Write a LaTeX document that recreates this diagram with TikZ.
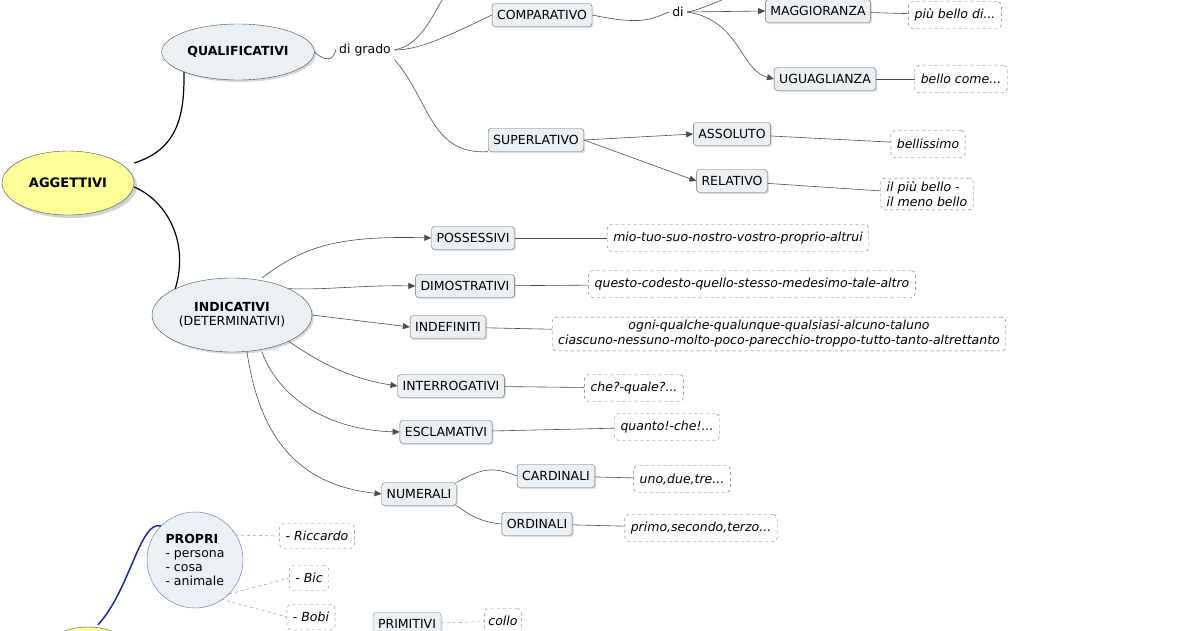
\documentclass[tikz,border=0pt]{standalone}
\usepackage{fontspec}
\setmainfont{DejaVu Sans}
\usetikzlibrary{shadows,arrows.meta}
\definecolor{nodefill}{HTML}{EAF0F4}
\definecolor{yel}{HTML}{FFFF99}
\definecolor{dblue}{HTML}{1A2A9A}
\begin{document}
\begin{tikzpicture}[x=1pt,y=-1pt,
  every node/.style={font=\fontsize{12.5}{14}\selectfont},
  cbox/.style={draw=black!60,fill=nodefill,rounded corners=3pt,minimum height=23pt,inner xsep=5pt,drop shadow={shadow xshift=1.5pt,shadow yshift=-1.5pt,fill=black!25}},
  ex/.style={draw=black!60,dashed,rounded corners=4pt,minimum height=27pt,inner xsep=6pt,font=\fontsize{12.5}{15}\selectfont\itshape},
  ell/.style={ellipse,draw=black!70,fill=nodefill,drop shadow={shadow xshift=2pt,shadow yshift=-2pt,fill=black!30}},
  yell/.style={ellipse,draw=black!70,fill=yel,drop shadow={shadow xshift=3pt,shadow yshift=-3pt,fill=black!35}},
  ln/.style={draw=black!70,line width=0.6pt},
  ar/.style={ln,-{Triangle[length=7pt,width=6pt]}},
  thk/.style={draw=black,line width=1.2pt},
]
\useasboundingbox (0,0) rectangle (1200,630);
\clip (0,0) rectangle (1200,630);
\usetikzlibrary{shapes.geometric}
% main nodes
\node[yell,minimum width=132pt,minimum height=64pt,font=\fontsize{13}{15}\selectfont\bfseries] (agg) at (68,183) {AGGETTIVI};
\node[ell,minimum width=144pt,minimum height=56pt,font=\fontsize{12.5}{15}\selectfont\bfseries] (qual) at (238,52) {QUALIFICATIVI};
\node (dg) at (365,50) {di grado};
\node[cbox] (comp) at (542,15) {COMPARATIVO};
\node (di) at (678,12) {di};
\node[cbox] (magg) at (818,11) {MAGGIORANZA};
\node[ex] (pb) at (955,15) {più bello di...};
\node[cbox] (ugu) at (825,79) {UGUAGLIANZA};
\node[ex] (bc) at (961,79) {bello come...};
\node[cbox] (sup) at (536,140) {SUPERLATIVO};
\node[cbox] (ass) at (732,134) {ASSOLUTO};
\node[ex] (bel) at (928,144) {bellissimo};
\node[cbox] (rel) at (732,181) {RELATIVO};
\node[ex,align=left] (ipb) at (927,194) {il più bello -\\il meno bello};
\node[ell,minimum width=154pt,minimum height=74pt,align=center] (ind) at (232,315) {\textbf{INDICATIVI}\\(DETERMINATIVI)};
\node[cbox] (pos) at (473,238) {POSSESSIVI};
\node[ex] (posx) at (738,238) {mio-tuo-suo-nostro-vostro-proprio-altrui};
\node[cbox] (dim) at (465,286) {DIMOSTRATIVI};
\node[ex] (dimx) at (752,284) {questo-codesto-quello-stesso-medesimo-tale-altro};
\node[cbox] (indf) at (448,327) {INDEFINITI};
\node[ex,align=center] (indfx) at (779,334) {ogni-qualche-qualunque-qualsiasi-alcuno-taluno\\ciascuno-nessuno-molto-poco-parecchio-troppo-tutto-tanto-altrettanto};
\node[cbox] (int) at (451,386) {INTERROGATIVI};
\node[ex] (intx) at (634,388) {che?-quale?...};
\node[cbox] (esc) at (446,432) {ESCLAMATIVI};
\node[ex] (escx) at (667,427) {quanto!-che!...};
\node[cbox] (num) at (419,494) {NUMERALI};
\node[cbox] (car) at (556,476) {CARDINALI};
\node[ex] (carx) at (682,479) {uno,due,tre...};
\node[cbox] (ord) at (537,524) {ORDINALI};
\node[ex] (ordx) at (701,528) {primo,secondo,terzo...};
\node[circle,draw=dblue!70,fill=nodefill,minimum size=96pt,align=left,inner sep=1pt] (pro) at (195,560) {\textbf{PROPRI}\\- persona\\- cosa\\- animale};
\node[ex,draw=dblue!60,minimum height=25pt] (ric) at (317,536) {- Riccardo};
\node[ex,draw=dblue!60,minimum height=25pt] (bic) at (309,578) {- Bic};
\node[ex,draw=dblue!60,minimum height=25pt] (bob) at (311,617) {- Bobi};
\node[cbox,draw=dblue!60] (pri) at (407,624) {PRIMITIVI};
\node[ex,draw=dblue!60,minimum height=25pt,inner xsep=4pt] (col) at (503,621) {collo};
\node[yell,minimum width=100pt,minimum height=70pt] (y1) at (88,662) {};
\node[yell,draw=black!80,minimum width=140pt,minimum height=60pt] (y2) at (770,662) {};
\coordinate (up1) at (445,-5);
\coordinate (up2) at (735,-5);
% connectors
\draw[thk] (agg.east) ++(0,-20) .. controls (175,150) and (185,120) .. (qual.south west) ++(0,0);
\draw[thk] (agg.east) ++(0,4) .. controls (165,200) and (190,240) .. (ind.north west);
\draw[draw=dblue,line width=1.5pt] (y1.north) ++(10,-2) .. controls (130,590) and (140,520) .. (pro.north west);
\draw[ln] (qual.east) .. controls (330,66) and (335,55) .. (dg.west);
\draw[ln] (dg.east) .. controls (420,45) and (430,20) .. (up1);
\draw[ln] (dg.east) .. controls (420,50) and (450,35) .. (comp.west);
\draw[ln] (dg.south east) .. controls (430,100) and (430,155) .. (sup.south west);
\draw[ln] (comp.east) .. controls (640,25) and (650,20) .. (di.west);
\draw[ln] (di.east) .. controls (700,10) and (720,0) .. (up2);
\draw[ar] (di.east) -- (magg.west);
\draw[ar] (di.east) .. controls (740,20) and (740,70) .. (ugu.west);
\draw[ln] (magg) -- (pb);
\draw[ln] (ugu) -- (bc);
\draw[ar] (sup.east) -- (ass.west);
\draw[ar] (sup.east) -- (rel.west);
\draw[ln] (ass) -- (bel);
\draw[ln] (rel) -- (ipb);
\draw[ar] (ind.north) ++(30,0) .. controls (300,250) and (330,235) .. (pos.west);
\draw[ar] (ind.north east) .. controls (330,290) and (360,285) .. (dim.west);
\draw[ar] (ind.east) -- (indf.west);
\draw[ar] (ind.south east) .. controls (330,370) and (360,380) .. (int.west);
\draw[ar] (ind.south) ++(30,0) .. controls (280,400) and (330,430) .. (esc.west);
\draw[ar] (ind.south) ++(15,0) .. controls (260,440) and (300,485) .. (num.west);
\draw[ln] (pos) -- (posx);
\draw[ln] (dim) -- (dimx);
\draw[ln] (indf) -- (indfx);
\draw[ln] (int) -- (intx);
\draw[ln] (esc) -- (escx);
\draw[ln] (num.north east) .. controls (480,470) and (490,465) .. (car.west);
\draw[ln] (num.south east) .. controls (470,515) and (480,522) .. (ord.west);
\draw[ln] (car) -- (carx);
\draw[ln] (ord) -- (ordx);
\draw[dblue!60,dashed] (pro.east) ++(-8,-25) -- (ric.west);
\draw[dblue!60,dashed] (pro.south east) -- (bic.west);
\draw[dblue!60,dashed] (pro.south east) ++(-8,5) -- (bob.west);
\draw[dblue!60,dashed] (pri) -- (col);
\end{tikzpicture}
\end{document}
